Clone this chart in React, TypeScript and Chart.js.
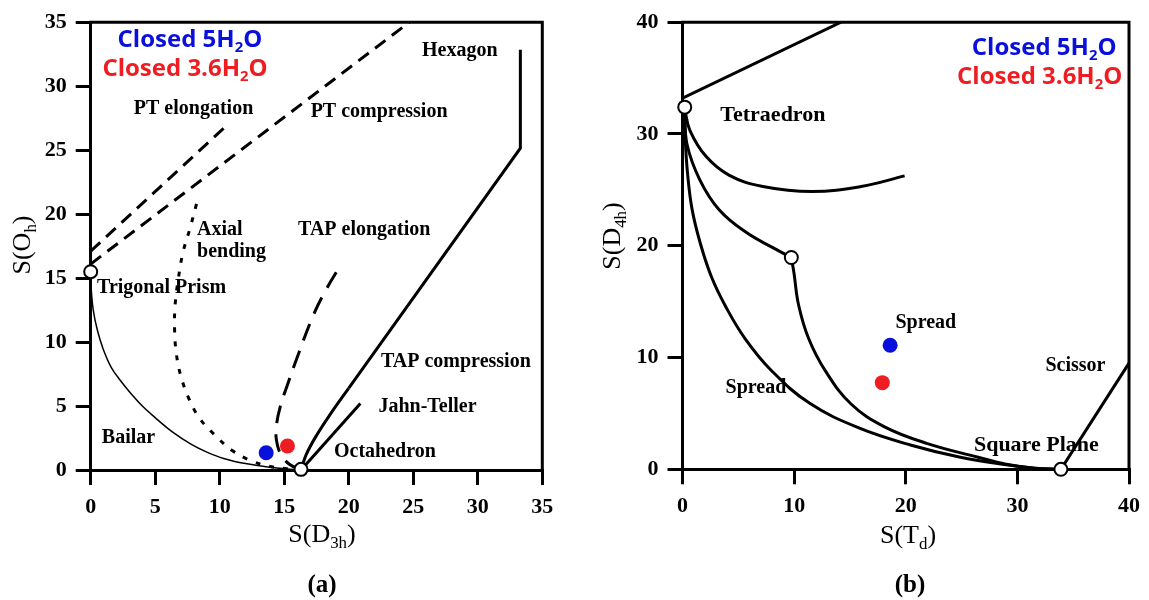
import React, { useEffect, useRef } from 'react';
import { Chart, registerables } from 'chart.js';

Chart.register(...registerables);

type Pt = [number, number];

// ---------- Panel (a): S(Oh) against S(D3h) ----------
const ticksAX = [0, 5, 10, 15, 20, 25, 30, 35];
const ticksAY = [0, 5, 10, 15, 20, 25, 30, 35];

const bailarPath: Pt[] = [
  [0, 15.5], [0.05, 14], [0.2, 12.5], [0.5, 11], [0.95, 9.5], [1.6, 8], [2.3, 7], [3.1, 6],
  [4.0, 5], [5.1, 4], [6.3, 3], [7.8, 2], [9.0, 1.4], [10.3, 0.9], [12.0, 0.5], [14.0, 0.2], [16.3, 0],
];
const axialBendingPath: Pt[] = [
  [8.2, 20.8], [7.7, 18.9], [7.15, 17.0], [6.8, 15.0], [6.55, 13.0], [6.5, 11.0], [6.65, 9.0],
  [7.0, 7.3], [7.6, 5.6], [8.4, 4.1], [9.5, 2.85], [11.0, 1.5], [12.5, 0.7], [13.8, 0.3], [15.3, 0.08],
];
const tapElongationPath: Pt[] = [
  [16.3, 0], [15.4, 0.45], [14.75, 1.2], [14.4, 2.3], [14.4, 3.5], [14.7, 5.0], [15.3, 6.8],
  [16.0, 8.8], [17.3, 12.2], [18.3, 14.2], [19.3, 15.9],
];
const tapCompressionFoot: Pt[] = [[16.3, 0], [16.7, 1.2], [17.5, 2.7], [18.6, 4.4], [20.0, 6.4]];
const tapCompressionPath: Pt[] = [[20.0, 6.4], [33.3, 25.15], [33.3, 32.85]];
const jahnTellerPath: Pt[] = [[16.3, 0], [20.9, 5.2]];
const ptElongationPath: Pt[] = [[0, 17.1], [10.4, 26.8]];
const ptCompressionPath: Pt[] = [[0, 16.1], [24.7, 35]];
const shapesA: Pt[] = [[0, 15.5], [16.3, 0.05]];
const closed5A: Pt[] = [[13.6, 1.35]];
const closed36A: Pt[] = [[15.25, 1.88]];

// ---------- Panel (b): S(D4h) against S(Td) ----------
const ticksBX = [0, 10, 20, 30, 40];
const ticksBY = [0, 10, 20, 30, 40];

const upperBranchB: Pt[] = [[0, 33.2], [14.2, 40]];
const shallowBranchB: Pt[] = [
  [0.2, 32.2], [0.67, 30.3], [2.1, 28.0], [4.2, 26.3], [7.2, 25.3], [11.6, 24.85], [16.0, 25.3], [19.9, 26.25],
];
const toKinkB: Pt[] = [
  [0.2, 32.2], [0.4, 29.1], [1.55, 25.9], [3.3, 23.2], [5.7, 21.2], [8.05, 19.85], [9.75, 18.95],
];
const fromKinkB: Pt[] = [
  [9.75, 18.95], [9.98, 17.6], [10.4, 14.7], [11.3, 11.7], [12.8, 8.8], [15.1, 5.84], [18.1, 3.8],
  [21.95, 2.3], [26.4, 1.1], [29.0, 0.45], [31.5, 0.1], [33.9, 0],
];
const spreadPathB: Pt[] = [
  [0.2, 32.2], [0.25, 29.5], [0.45, 26.5], [0.85, 23.3], [1.6, 20.2], [2.6, 17.2], [3.9, 14.5],
  [5.6, 11.7], [8.0, 8.8], [11.4, 5.9], [15.8, 3.7], [20.5, 2.15], [25.0, 1.05], [29.0, 0.4],
  [31.6, 0.1], [33.9, 0],
];
const scissorPathB: Pt[] = [[33.9, 0], [40, 9.5]];
const shapesB: Pt[] = [[0.2, 32.4], [9.75, 18.95], [33.9, 0]];
const closed5B: Pt[] = [[18.6, 11.1]];
const closed36B: Pt[] = [[17.9, 7.75]];

// ---------- text ----------
type Seg = { t: string; sub?: boolean };
type Label = { text: string; x: number; y: number; align: CanvasTextAlign; size?: number };

const labelsA: Label[] = [
  { text: 'Hexagon', x: 28.6, y: 32.8, align: 'center' },
  { text: 'PT elongation', x: 7.97, y: 28.2, align: 'center' },
  { text: 'PT compression', x: 22.35, y: 28.0, align: 'center' },
  { text: 'Axial', x: 8.24, y: 18.75, align: 'left' },
  { text: 'bending', x: 8.24, y: 17.03, align: 'left' },
  { text: 'TAP elongation', x: 21.2, y: 18.75, align: 'center' },
  { text: 'Trigonal Prism', x: 0.49, y: 14.23, align: 'left' },
  { text: 'TAP compression', x: 28.3, y: 8.42, align: 'center' },
  { text: 'Jahn-Teller', x: 26.1, y: 4.92, align: 'center' },
  { text: 'Bailar', x: 2.93, y: 2.49, align: 'center' },
  { text: 'Octahedron', x: 22.8, y: 1.4, align: 'center' },
];
const labelsB: Label[] = [
  { text: 'Tetraedron', x: 8.1, y: 31.7, align: 'center', size: 22 },
  { text: 'Spread', x: 21.8, y: 13.06, align: 'center' },
  { text: 'Scissor', x: 35.2, y: 9.23, align: 'center' },
  { text: 'Spread', x: 6.58, y: 7.31, align: 'center' },
  { text: 'Square Plane', x: 31.7, y: 2.15, align: 'center', size: 22 },
];

const BLUE = '#0a10dc';
const RED = '#ef1c22';
const SERIF = '"Liberation Serif", serif';
const SANS = '"Open Sans", Lato, sans-serif';

const legend5: Seg[] = [{ t: 'Closed 5H' }, { t: '2', sub: true }, { t: 'O' }];
const legend36: Seg[] = [{ t: 'Closed 3.6H' }, { t: '2', sub: true }, { t: 'O' }];

type PanelSpec = {
  ticksX: number[];
  ticksY: number[];
  lines: { pts: Pt[]; width: number; dash?: number[]; tension?: number }[];
  shapes: Pt[];
  blue: Pt[];
  red: Pt[];
  labels: Label[];
  legendBlue: { x: number; y: number };
  legendRed: { x: number; y: number };
  xTitle: Seg[];
  yTitle: Seg[];
  caption: string;
  xTitlePos: [number, number];
  yTitlePos: [number, number];
  captionPos: [number, number];
  padding: { left: number; right: number; top: number; bottom: number };
  yAxisWidth: number;
  xAxisHeight: number;
};

const panelA: PanelSpec = {
  ticksX: ticksAX,
  ticksY: ticksAY,
  lines: [
    { pts: bailarPath, width: 1.5, tension: 0.4 },
    { pts: axialBendingPath, width: 3, dash: [5, 9], tension: 0.4 },
    { pts: tapElongationPath, width: 3, dash: [18, 11], tension: 0.4 },
    { pts: tapCompressionFoot, width: 3, tension: 0.4 },
    { pts: tapCompressionPath, width: 3 },
    { pts: jahnTellerPath, width: 3 },
    { pts: ptElongationPath, width: 3, dash: [13, 8] },
    { pts: ptCompressionPath, width: 3, dash: [13, 8] },
  ],
  shapes: shapesA,
  blue: closed5A,
  red: closed36A,
  labels: labelsA,
  legendBlue: { x: 7.69, y: 33.06 },
  legendRed: { x: 7.31, y: 30.8 },
  xTitle: [{ t: 'S(D' }, { t: '3h', sub: true }, { t: ')' }],
  yTitle: [{ t: 'S(O' }, { t: 'h', sub: true }, { t: ')' }],
  caption: '(a)',
  xTitlePos: [322, 542],
  yTitlePos: [30, 245],
  captionPos: [322, 592],
  padding: { left: 0, right: 32.7, top: 20, bottom: 0 },
  yAxisWidth: 90.7,
  xAxisHeight: 130,
};

const panelB: PanelSpec = {
  ticksX: ticksBX,
  ticksY: ticksBY,
  lines: [
    { pts: upperBranchB, width: 3 },
    { pts: shallowBranchB, width: 3, tension: 0.4 },
    { pts: toKinkB, width: 3, tension: 0.4 },
    { pts: fromKinkB, width: 3, tension: 0.4 },
    { pts: spreadPathB, width: 3, tension: 0.4 },
    { pts: scissorPathB, width: 3 },
  ],
  shapes: shapesB,
  blue: closed5B,
  red: closed36B,
  labels: labelsB,
  legendBlue: { x: 32.4, y: 37.1 },
  legendRed: { x: 32.0, y: 34.45 },
  xTitle: [{ t: 'S(T' }, { t: 'd', sub: true }, { t: ')' }],
  yTitle: [{ t: 'S(D' }, { t: '4h', sub: true }, { t: ')' }],
  caption: '(b)',
  xTitlePos: [333, 543],
  yTitlePos: [45, 236],
  captionPos: [335, 592],
  padding: { left: 0, right: 15.5, top: 17.5, bottom: 0 },
  yAxisWidth: 107.5,
  xAxisHeight: 130.7,
};

const toXY = (pts: Pt[]) => pts.map(([x, y]) => ({ x, y }));

function drawRich(
  ctx: CanvasRenderingContext2D,
  segs: Seg[],
  x: number,
  y: number,
  opts: { family: string; size: number; weight: string; color: string; subScale: number; subDrop: number },
  align: 'left' | 'center' | 'right',
  angle = 0,
) {
  ctx.save();
  ctx.translate(x, y);
  if (angle) ctx.rotate(angle);
  ctx.fillStyle = opts.color;
  ctx.textAlign = 'left';
  ctx.textBaseline = 'alphabetic';
  const fontFor = (sub?: boolean) =>
    `${opts.weight} ${sub ? opts.size * opts.subScale : opts.size}px ${opts.family}`;
  const widths = segs.map((s) => {
    ctx.font = fontFor(s.sub);
    return ctx.measureText(s.t).width;
  });
  const total = widths.reduce((a, b) => a + b, 0);
  let cx = align === 'center' ? -total / 2 : align === 'right' ? -total : 0;
  segs.forEach((s, i) => {
    ctx.font = fontFor(s.sub);
    ctx.fillText(s.t, cx, s.sub ? opts.subDrop : 0);
    cx += widths[i];
  });
  ctx.restore();
}

function makeScale(ticks: number[], axis: 'x' | 'y', fit: number) {
  return {
    type: 'linear' as const,
    position: axis === 'x' ? ('bottom' as const) : ('left' as const),
    min: ticks[0],
    max: ticks[ticks.length - 1],
    afterBuildTicks: (s: any) => {
      s.ticks = ticks.map((v) => ({ value: v }));
    },
    afterFit: (s: any) => {
      if (axis === 'x') s.height = fit;
      else s.width = fit;
    },
    ticks: {
      color: '#000',
      font: { family: SERIF, size: 22, weight: 'bold' as const },
      padding: 9,
      autoSkip: false,
      maxRotation: 0,
      minRotation: 0,
      callback: (v: any) => String(v),
    },
    grid: {
      display: true,
      drawOnChartArea: false,
      drawTicks: true,
      tickLength: 15,
      lineWidth: 3,
      color: '#000',
      tickColor: '#000',
      tickWidth: 3,
    },
    border: { display: true, color: '#000', width: 3 },
  };
}

function buildConfig(p: PanelSpec): any {
  const markerSets = [
    {
      data: toXY(p.shapes),
      showLine: false,
      pointRadius: 6.5,
      pointHoverRadius: 6.5,
      backgroundColor: '#fff',
      pointBackgroundColor: '#fff',
      borderColor: '#000',
      pointBorderColor: '#000',
      pointBorderWidth: 2,
      clip: false,
      order: 0,
    },
    {
      data: toXY(p.blue),
      showLine: false,
      pointRadius: 7.5,
      pointHoverRadius: 7.5,
      backgroundColor: BLUE,
      pointBackgroundColor: BLUE,
      pointBorderWidth: 0,
      borderWidth: 0,
      clip: false,
      order: 1,
    },
    {
      data: toXY(p.red),
      showLine: false,
      pointRadius: 7.5,
      pointHoverRadius: 7.5,
      backgroundColor: RED,
      pointBackgroundColor: RED,
      pointBorderWidth: 0,
      borderWidth: 0,
      clip: false,
      order: 1,
    },
  ];
  const lineSets = p.lines.map((l) => ({
    data: toXY(l.pts),
    showLine: true,
    borderColor: '#000',
    backgroundColor: '#000',
    borderWidth: l.width,
    borderDash: l.dash ?? [],
    tension: l.tension ?? 0,
    pointRadius: 0,
    pointHoverRadius: 0,
    fill: false,
    order: 5,
  }));

  const decor = {
    id: 'panelDecor',
    afterDraw(chart: any) {
      const ctx: CanvasRenderingContext2D = chart.ctx;
      const { left, right, top, bottom } = chart.chartArea;
      const sx = chart.scales.x;
      const sy = chart.scales.y;

      // top and right frame lines
      ctx.save();
      ctx.strokeStyle = '#000';
      ctx.lineWidth = 3;
      ctx.beginPath();
      ctx.moveTo(left - 1.5, top);
      ctx.lineTo(right, top);
      ctx.lineTo(right, bottom + 1.5);
      ctx.stroke();
      ctx.restore();

      // region labels
      ctx.save();
      ctx.fillStyle = '#000';
      ctx.textBaseline = 'middle';
      p.labels.forEach((lb) => {
        ctx.font = `bold ${lb.size ?? 20}px ${SERIF}`;
        ctx.textAlign = lb.align;
        ctx.fillText(lb.text, sx.getPixelForValue(lb.x), sy.getPixelForValue(lb.y));
      });
      ctx.restore();

      // series key
      const keyStyle = { family: SANS, size: 24, weight: 'bold', subScale: 0.62, subDrop: 5 };
      drawRich(ctx, legend5, sx.getPixelForValue(p.legendBlue.x), sy.getPixelForValue(p.legendBlue.y),
        { ...keyStyle, color: BLUE }, 'center');
      drawRich(ctx, legend36, sx.getPixelForValue(p.legendRed.x), sy.getPixelForValue(p.legendRed.y),
        { ...keyStyle, color: RED }, 'center');

      // axis titles and panel caption
      const titleStyle = { family: SERIF, size: 26, weight: 'normal', color: '#000', subScale: 0.65, subDrop: 6 };
      drawRich(ctx, p.xTitle, p.xTitlePos[0], p.xTitlePos[1], titleStyle, 'center');
      drawRich(ctx, p.yTitle, p.yTitlePos[0], p.yTitlePos[1], titleStyle, 'center', -Math.PI / 2);
      drawRich(ctx, [{ t: p.caption }], p.captionPos[0], p.captionPos[1],
        { family: SERIF, size: 25, weight: 'bold', color: '#000', subScale: 1, subDrop: 0 }, 'center');
    },
  };

  return {
    type: 'scatter',
    data: { datasets: [...markerSets, ...lineSets] },
    options: {
      responsive: false,
      maintainAspectRatio: false,
      animation: false,
      events: [],
      layout: { padding: p.padding },
      plugins: { legend: { display: false }, tooltip: { enabled: false }, title: { display: false } },
      scales: {
        x: makeScale(p.ticksX, 'x', p.xAxisHeight),
        y: makeScale(p.ticksY, 'y', p.yAxisWidth),
      },
    },
    plugins: [decor],
  };
}

function Panel({ spec, left, width }: { spec: PanelSpec; left: number; width: number }) {
  const ref = useRef<HTMLCanvasElement>(null);
  useEffect(() => {
    if (!ref.current) return;
    const chart = new Chart(ref.current, buildConfig(spec));
    return () => chart.destroy();
  }, [spec]);
  return (
    <canvas
      ref={ref}
      width={width}
      height={600}
      style={{ position: 'absolute', left, top: 0, width, height: 600 }}
    />
  );
}

export default function App() {
  return (
    <div style={{ position: 'absolute', left: 0, top: 0, width: 1149, height: 600, background: '#fff', overflow: 'hidden' }}>
      <Panel spec={panelA} left={0} width={575} />
      <Panel spec={panelB} left={575} width={574} />
    </div>
  );
}
